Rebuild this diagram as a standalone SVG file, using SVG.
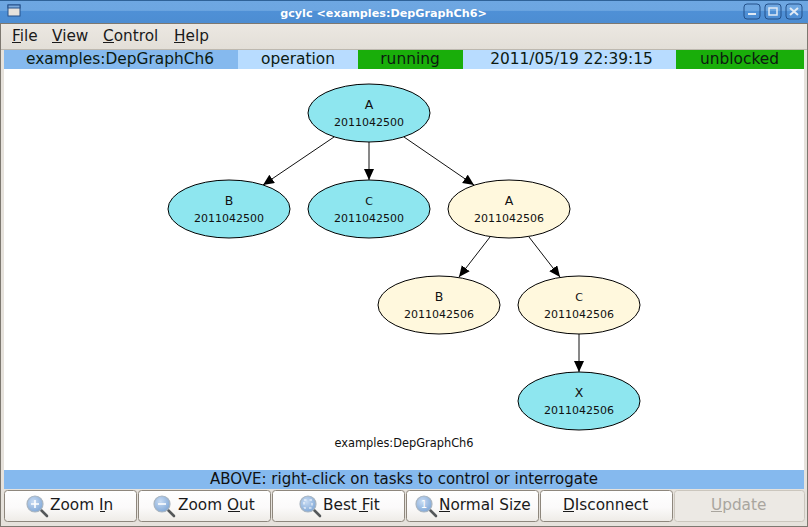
<svg xmlns="http://www.w3.org/2000/svg" width="808" height="527" viewBox="0 0 808 527">
<style>
text{font-family:"DejaVu Sans",sans-serif;fill:#000}
.m{text-anchor:middle}
.menu{font-size:15.300px;fill:#1a1a1a}
.st{font-size:15.400px;text-anchor:middle;fill:#0c1a10}
.hint{font-size:15px;text-anchor:middle;fill:#111}
.btn{font-size:15.300px;fill:#1a1a1a}
.n{font-size:12.500px;text-anchor:middle;fill:#111}
.d{font-size:11px;text-anchor:middle;fill:#111}
.e{stroke:#000;stroke-width:1}
.blue{fill:#8ee6ef}
.cream{fill:#fff8dd}
.c{stroke:#111;stroke-width:1;fill:none;marker-end:url(#arr)}
.b{fill:url(#bg);stroke:#8e877d;stroke-width:1}
.u{stroke:#1a1a1a;stroke-width:1}
.wb{fill:none;stroke:#24518a;stroke-width:1}
</style>
<defs>
<marker id="arr" markerUnits="userSpaceOnUse" markerWidth="14" markerHeight="12" refX="11" refY="5" orient="auto"><path d="M0 0L11 5L0 10Z" fill="#000"/></marker>
<linearGradient id="tb" x1="0" y1="0" x2="0" y2="1"><stop offset="0" stop-color="#6ea7e2"/><stop offset=".45" stop-color="#6da6e1"/><stop offset=".5" stop-color="#4f90d6"/><stop offset="1" stop-color="#4d8dd2"/></linearGradient>
<linearGradient id="mb" x1="0" y1="0" x2="0" y2="1"><stop offset="0" stop-color="#ece8e2"/><stop offset="1" stop-color="#e3dfd8"/></linearGradient>
<linearGradient id="bg" x1="0" y1="0" x2="0" y2="1"><stop offset="0" stop-color="#ffffff"/><stop offset=".55" stop-color="#fbfafa"/><stop offset="1" stop-color="#eeebe6"/></linearGradient>
<radialGradient id="lens" cx=".4" cy=".35" r=".7"><stop offset="0" stop-color="#c9dcf3"/><stop offset="1" stop-color="#7ea6d6"/></radialGradient>
<g id="mag"><line x1="6" y1="6" x2="12" y2="12" stroke="#55585a" stroke-width="2.600" stroke-linecap="round"/><circle cx="0" cy="0" r="8" fill="url(#lens)" stroke="#a9b5c0" stroke-width="1.200"/></g>
</defs>

<rect width="808" height="527" fill="#e6e2dc"/>
<g id="titlebar">
<rect width="808" height="23" fill="url(#tb)"/>
<line x1="0" y1="0.500" x2="808" y2="0.500" stroke="#2f6298"/>
<rect x="8" y="5" width="12" height="11" fill="#e6e2dc" stroke="#24518a"/>
<rect x="8" y="5" width="12" height="3" fill="#7aa9dc" stroke="#24518a"/>
<text x="383.500" y="17" class="m" font-size="11.200" font-weight="bold" style="fill:#fff">gcylc &lt;examples:DepGraphCh6&gt;</text>
<rect x="744" y="4" width="16" height="15" rx="3" class="wb"/>
<path d="M748 14H756" stroke="#dfe9f4" stroke-width="2"/>
<rect x="765" y="4" width="16" height="15" rx="3" class="wb"/>
<rect x="769" y="8" width="8" height="7" fill="none" stroke="#dfe9f4" stroke-width="1.500"/>
<rect x="786" y="4" width="16" height="15" rx="3" class="wb"/>
<path d="M790 8L798 15M798 8L790 15" stroke="#dfe9f4" stroke-width="2"/>
</g>
<g id="menubar">
<rect y="23" width="808" height="26" fill="url(#mb)"/>
<line x1="0" y1="49.500" x2="808" y2="49.500" stroke="#bdb8af"/>
<text x="12" y="41" class="menu">File</text><line x1="12" y1="42.500" x2="21" y2="42.500" class="u"/>
<text x="52" y="41" class="menu">View</text><line x1="52" y1="42.500" x2="62" y2="42.500" class="u"/>
<text x="103" y="41" class="menu">Control</text><line x1="103" y1="42.500" x2="114" y2="42.500" class="u"/>
<text x="174" y="41" class="menu">Help</text><line x1="174" y1="42.500" x2="185" y2="42.500" class="u"/>
</g>
<g id="status">
<rect x="4" y="50" width="234" height="19" fill="#85b9ee"/>
<rect x="238" y="50" width="120" height="19" fill="#b8dcff"/>
<rect x="358" y="50" width="105" height="19" fill="#19ae0a"/>
<rect x="463" y="50" width="213" height="19" fill="#b8dcff"/>
<rect x="676" y="50" width="128" height="19" fill="#19ae0a"/>
<text x="120" y="64" class="st">examples:DepGraphCh6</text>
<text x="298" y="64" class="st">operation</text>
<text x="410" y="64" class="st">running</text>
<text x="571.500" y="64" class="st">2011/05/19 22:39:15</text>
<text x="739.500" y="64" class="st">unblocked</text>
</g>
<rect id="canvas" x="4" y="69" width="800" height="401" fill="#fff"/>

<g id="connectors">
<line x1="334" y1="137" x2="263" y2="185" class="c"/>
<line x1="369" y1="142" x2="369" y2="180" class="c"/>
<line x1="404" y1="137" x2="474" y2="185" class="c"/>
<line x1="490" y1="237" x2="459" y2="277" class="c"/>
<line x1="529" y1="237" x2="560" y2="277" class="c"/>
<line x1="579" y1="334" x2="579" y2="372" class="c"/>
</g>
<g id="n-A0"><ellipse cx="369" cy="113" rx="61" ry="29" class="e blue"/><text x="369" y="109" class="n">A</text><text x="369" y="126" class="d">2011042500</text></g>
<g id="n-B0"><ellipse cx="229" cy="209" rx="61" ry="29" class="e blue"/><text x="229" y="205" class="n">B</text><text x="229" y="222" class="d">2011042500</text></g>
<g id="n-C0"><ellipse cx="369" cy="209" rx="61" ry="29" class="e blue"/><text x="369" y="205" class="n" font-size="11" style="font-size:11px">C</text><text x="369" y="222" class="d">2011042500</text></g>
<g id="n-A6"><ellipse cx="509" cy="209" rx="61" ry="29" class="e cream"/><text x="509" y="205" class="n">A</text><text x="509" y="222" class="d">2011042506</text></g>
<g id="n-B6"><ellipse cx="439" cy="305" rx="61" ry="29" class="e cream"/><text x="439" y="301" class="n">B</text><text x="439" y="318" class="d">2011042506</text></g>
<g id="n-C6"><ellipse cx="579" cy="305" rx="61" ry="29" class="e cream"/><text x="579" y="301" class="n" style="font-size:11px">C</text><text x="579" y="318" class="d">2011042506</text></g>
<g id="n-X6"><ellipse cx="579" cy="401" rx="61" ry="29" class="e blue"/><text x="579" y="397" class="n">X</text><text x="579" y="414" class="d">2011042506</text></g>
<text id="graph-label" x="404" y="447" class="d" style="font-size:11.400px">examples:DepGraphCh6</text>

<g id="hint">
<rect x="4" y="470" width="800" height="19" fill="#85b9ee"/>
<text x="404" y="484" class="hint">ABOVE: right-click on tasks to control or interrogate</text>
</g>
<g id="btn-zoom-in"><rect x="4.500" y="490.500" width="132" height="31" rx="3" class="b"/><use href="#mag" x="35" y="504"/><path d="M31 504H39M35 500V508" stroke="#fff" stroke-width="1.600"/><text x="50" y="510" class="btn">Zoom In</text><line x1="100" y1="511.500" x2="105" y2="511.500" class="u"/></g>
<g id="btn-zoom-out"><rect x="138.500" y="490.500" width="132" height="31" rx="3" class="b"/><use href="#mag" x="162" y="504"/><path d="M158 504H166" stroke="#fff" stroke-width="1.600"/><text x="178" y="510" class="btn">Zoom Out</text><line x1="228" y1="511.500" x2="240" y2="511.500" class="u"/></g>
<g id="btn-best-fit"><rect x="272.500" y="490.500" width="132" height="31" rx="3" class="b"/><use href="#mag" x="308" y="504"/><rect x="304" y="500" width="8" height="8" fill="none" stroke="#fff" stroke-dasharray="2.500 3"/><text x="323" y="510" class="btn">Best Fit</text><line x1="359" y1="511.500" x2="368" y2="511.500" class="u"/></g>
<g id="btn-normal"><rect x="406.500" y="490.500" width="132" height="31" rx="3" class="b"/><use href="#mag" x="424" y="504"/><text x="424" y="508" class="m" font-size="10" style="fill:#fff">1</text><text x="439" y="510" class="btn">Normal Size</text><line x1="439" y1="511.500" x2="450" y2="511.500" class="u"/></g>
<g id="btn-disconnect"><rect x="540.500" y="490.500" width="132" height="31" rx="3" class="b"/><text x="563" y="510" class="btn">DIsconnect</text><line x1="563" y1="511.500" x2="574" y2="511.500" class="u"/></g>
<g id="btn-update"><rect x="674.500" y="490.500" width="130" height="31" rx="3" fill="#ece9e4" stroke="#cbc6bd"/><text x="711" y="510" class="btn" style="fill:#a9a59e">Update</text><line x1="711" y1="511.500" x2="722" y2="511.500" stroke="#a9a59e"/></g>
<rect id="frame" x="0.500" y="23.500" width="807" height="503" fill="none" stroke="#7d7870"/>
</svg>
